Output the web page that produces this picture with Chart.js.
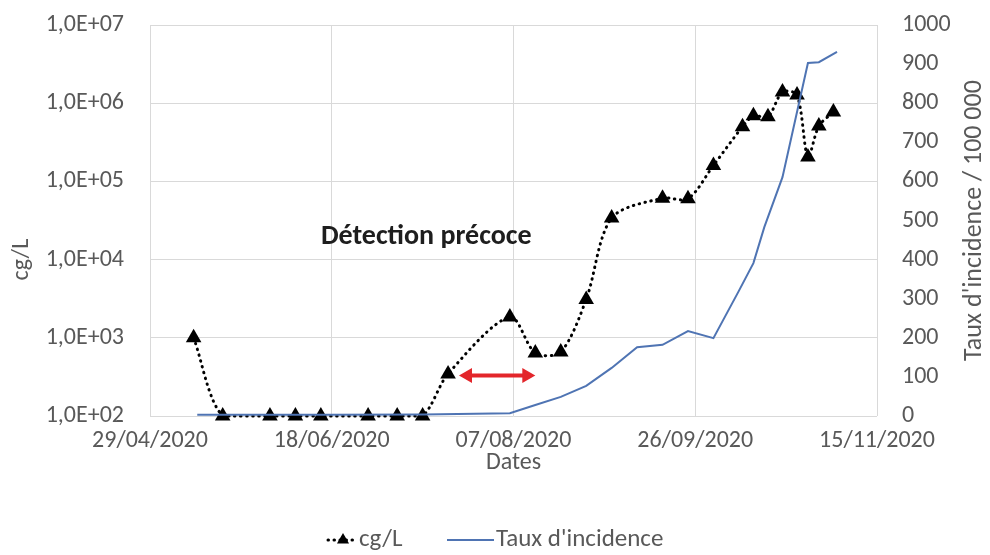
<!DOCTYPE html>
<html>
<head>
<meta charset="utf-8">
<script src="https://cdn.jsdelivr.net/npm/chart.js@4.4.0/dist/chart.umd.min.js"></script>
<style>
  html, body { margin: 0; padding: 0; background: #ffffff; }
  #wrap { width: 990px; height: 555px; }
</style>
</head>
<body>
<div id="wrap"><canvas id="c" width="990" height="555"></canvas></div>
<script>
// ---------- DATA ----------
const originDate = '29/04/2020';
const xTickLabels = ['29/04/2020', '18/06/2020', '07/08/2020', '26/09/2020', '15/11/2020'];
const leftTickValues = [1e2, 1e3, 1e4, 1e5, 1e6, 1e7];
const leftTickLabels = ['1,0E+02', '1,0E+03', '1,0E+04', '1,0E+05', '1,0E+06', '1,0E+07'];
const rightTickValues = [0, 100, 200, 300, 400, 500, 600, 700, 800, 900, 1000];

const cgDates = ['11/05/2020','19/05/2020','01/06/2020','08/06/2020','15/06/2020','28/06/2020','06/07/2020','13/07/2020','20/07/2020','06/08/2020','13/08/2020','20/08/2020','27/08/2020','03/09/2020','17/09/2020','24/09/2020','01/10/2020','09/10/2020','12/10/2020','16/10/2020','20/10/2020','24/10/2020','27/10/2020','30/10/2020','03/11/2020'];
const cgValues = [1000,100,100,100,100,100,100,100,345,1850,640,660,3100,34000,61000,60000,160000,500000,690000,670000,1390000,1270000,205000,510000,770000];

const incDates = ['12/05/2020','18/06/2020','13/07/2020','06/08/2020','13/08/2020','20/08/2020','27/08/2020','03/09/2020','10/09/2020','17/09/2020','24/09/2020','01/10/2020','08/10/2020','12/10/2020','15/10/2020','20/10/2020','27/10/2020','30/10/2020','04/11/2020'];
const incValues = [3,3,4,7,28,49,77,123,176,182,217,199,320,391,483,611,903,905,931];

const noteText = 'Détection précoce';
const noteDate = ['14/07/2020'];
const noteValue = [19500];
const arrowDates = ['23/07/2020', '13/08/2020'];
const arrowValue = [330];

const seriesNames = ['cg/L', "Taux d'incidence"];
const axisTitles = { x: 'Dates', left: 'cg/L', right: "Taux d'incidence / 100 000" };

// ---------- HELPERS ----------
function toUTC(s) { const p = s.split('/').map(Number); return Date.UTC(p[2], p[1] - 1, p[0]); }
const ORIGIN = toUTC(originDate);
function dayOffset(s) { return Math.round((toUTC(s) - ORIGIN) / 86400000); }
function pad(n) { return (n < 10 ? '0' : '') + n; }
function fmtDay(n) {
  const d = new Date(ORIGIN + n * 86400000);
  return pad(d.getUTCDate()) + '/' + pad(d.getUTCMonth() + 1) + '/' + d.getUTCFullYear();
}
const xTickDays = xTickLabels.map(dayOffset);

const FONT = "Carlito, Calibri, Lato, 'Open Sans', sans-serif";
const GRAY = '#595959';
const BLUE = '#4f74b3';

// ---------- PLUGIN (titles, note, arrow, legend) ----------
const extras = {
  id: 'extras',
  beforeDraw(chart) {
    const ctx = chart.ctx;
    ctx.save();
    ctx.fillStyle = '#ffffff';
    ctx.fillRect(0, 0, chart.width, chart.height);
    ctx.restore();
  },
  afterDatasetsDraw(chart) {
    const ctx = chart.ctx;
    const xs = chart.scales.x, ys = chart.scales.y;
    // arrow
    const x1 = xs.getPixelForValue(dayOffset(arrowDates[0]));
    const x2 = xs.getPixelForValue(dayOffset(arrowDates[1]));
    const ay = ys.getPixelForValue(arrowValue[0]);
    ctx.save();
    ctx.strokeStyle = '#e3262b';
    ctx.fillStyle = '#e3262b';
    ctx.lineWidth = 4;
    const head = 13, hw = 7.5;
    ctx.beginPath();
    ctx.moveTo(x1 + head - 2, ay);
    ctx.lineTo(x2 - head + 2, ay);
    ctx.stroke();
    ctx.beginPath();
    ctx.moveTo(x1, ay); ctx.lineTo(x1 + head, ay - hw); ctx.lineTo(x1 + head, ay + hw); ctx.closePath(); ctx.fill();
    ctx.beginPath();
    ctx.moveTo(x2, ay); ctx.lineTo(x2 - head, ay - hw); ctx.lineTo(x2 - head, ay + hw); ctx.closePath(); ctx.fill();
    ctx.restore();
    // note
    ctx.save();
    ctx.font = 'bold 28px ' + FONT;
    ctx.fillStyle = '#1e1e1e';
    ctx.textAlign = 'center';
    ctx.textBaseline = 'middle';
    ctx.fillText(noteText, xs.getPixelForValue(dayOffset(noteDate[0])), ys.getPixelForValue(noteValue[0]));
    ctx.restore();
  },
  afterDraw(chart) {
    const ctx = chart.ctx;
    const area = chart.chartArea;
    ctx.save();
    ctx.fillStyle = GRAY;
    ctx.textAlign = 'center';
    ctx.textBaseline = 'middle';
    // x title
    ctx.font = '24px ' + FONT;
    ctx.fillText(axisTitles.x, (area.left + area.right) / 2, area.bottom + 47);
    // left title
    ctx.save();
    ctx.translate(22, area.top + (area.bottom - area.top) * 0.6);
    ctx.rotate(-Math.PI / 2);
    ctx.fillText(axisTitles.left, 0, 0);
    ctx.restore();
    // right title (reads bottom to top)
    ctx.save();
    ctx.font = '26px ' + FONT;
    ctx.translate(974, (area.top + area.bottom) / 2);
    ctx.rotate(-Math.PI / 2);
    ctx.fillText(axisTitles.right, 0, 0);
    ctx.restore();
    // legend
    const ly = area.bottom + 124;
    ctx.font = '25px ' + FONT;
    ctx.textAlign = 'left';
    // series 1: dotted line + triangle
    ctx.strokeStyle = '#000';
    ctx.lineWidth = 3;
    ctx.lineCap = 'round';
    ctx.setLineDash([0.5, 5.5]);
    ctx.beginPath(); ctx.moveTo(328, ly); ctx.lineTo(357, ly); ctx.stroke();
    ctx.setLineDash([]);
    ctx.fillStyle = '#000';
    const r = 7;
    ctx.beginPath();
    ctx.moveTo(343, ly - r);
    ctx.lineTo(343 + r * 0.866, ly + r * 0.5);
    ctx.lineTo(343 - r * 0.866, ly + r * 0.5);
    ctx.closePath(); ctx.fill();
    ctx.fillStyle = GRAY;
    ctx.fillText(seriesNames[0], 359, ly);
    // series 2: solid blue line
    ctx.strokeStyle = BLUE;
    ctx.lineWidth = 2;
    ctx.lineCap = 'butt';
    ctx.beginPath(); ctx.moveTo(447, ly); ctx.lineTo(494, ly); ctx.stroke();
    ctx.fillText(seriesNames[1], 496, ly);
    ctx.restore();
  }
};

// ---------- CHART ----------
const cgPoints = cgDates.map((d, i) => ({ x: dayOffset(d), y: cgValues[i] }));
const incPoints = incDates.map((d, i) => ({ x: dayOffset(d), y: incValues[i] }));

function noVPad(s, w) { s.width = w; s.paddingTop = 0; s.paddingBottom = 0; }

new Chart(document.getElementById('c'), {
  type: 'line',
  data: {
    datasets: [
      {
        label: seriesNames[0],
        data: cgPoints,
        yAxisID: 'y',
        borderColor: '#000000',
        borderWidth: 3,
        borderDash: [0.5, 5.5],
        borderCapStyle: 'round',
        tension: 0.3,
        pointStyle: 'triangle',
        pointRadius: 9,
        pointBackgroundColor: '#000000',
        pointBorderColor: '#000000',
        pointBorderWidth: 0,
        clip: false,
        order: 1
      },
      {
        label: seriesNames[1],
        data: incPoints,
        yAxisID: 'y1',
        borderColor: BLUE,
        borderWidth: 2,
        tension: 0,
        pointRadius: 0,
        clip: false,
        order: 0
      }
    ]
  },
  options: {
    responsive: false,
    animation: false,
    devicePixelRatio: 1,
    layout: { padding: { top: 25, left: 0, right: 0, bottom: 0 } },
    plugins: { legend: { display: false }, tooltip: { enabled: false } },
    scales: {
      x: {
        type: 'linear',
        min: xTickDays[0],
        max: xTickDays[xTickDays.length - 1],
        afterBuildTicks: (s) => { s.ticks = xTickDays.map(v => ({ value: v })); },
        afterFit: (s) => { s.height = 139; s.paddingLeft = 0; s.paddingRight = 0; },
        ticks: {
          callback: (v) => fmtDay(v),
          color: GRAY,
          font: { family: FONT, size: 24 },
          padding: 11,
          maxRotation: 0,
          autoSkip: false
        },
        grid: { color: '#d9d9d9', lineWidth: 1, drawTicks: false },
        border: { display: false }
      },
      y: {
        type: 'logarithmic',
        position: 'left',
        min: leftTickValues[0],
        max: leftTickValues[leftTickValues.length - 1],
        afterBuildTicks: (s) => { s.ticks = leftTickValues.map(v => ({ value: v })); },
        afterFit: (s) => noVPad(s, 150),
        ticks: {
          callback: (v) => leftTickLabels[leftTickValues.indexOf(v)],
          color: GRAY,
          font: { family: FONT, size: 24 },
          padding: 26,
          autoSkip: false
        },
        grid: { color: '#d9d9d9', lineWidth: 1, drawTicks: false },
        border: { display: false }
      },
      y1: {
        type: 'linear',
        position: 'right',
        min: rightTickValues[0],
        max: rightTickValues[rightTickValues.length - 1],
        afterBuildTicks: (s) => { s.ticks = rightTickValues.map(v => ({ value: v })); },
        afterFit: (s) => noVPad(s, 113),
        ticks: {
          callback: (v) => String(v),
          color: GRAY,
          font: { family: FONT, size: 24 },
          padding: 25,
          autoSkip: false
        },
        grid: { display: false, drawTicks: false },
        border: { display: false }
      }
    }
  },
  plugins: [extras]
});
</script>
</body>
</html>
